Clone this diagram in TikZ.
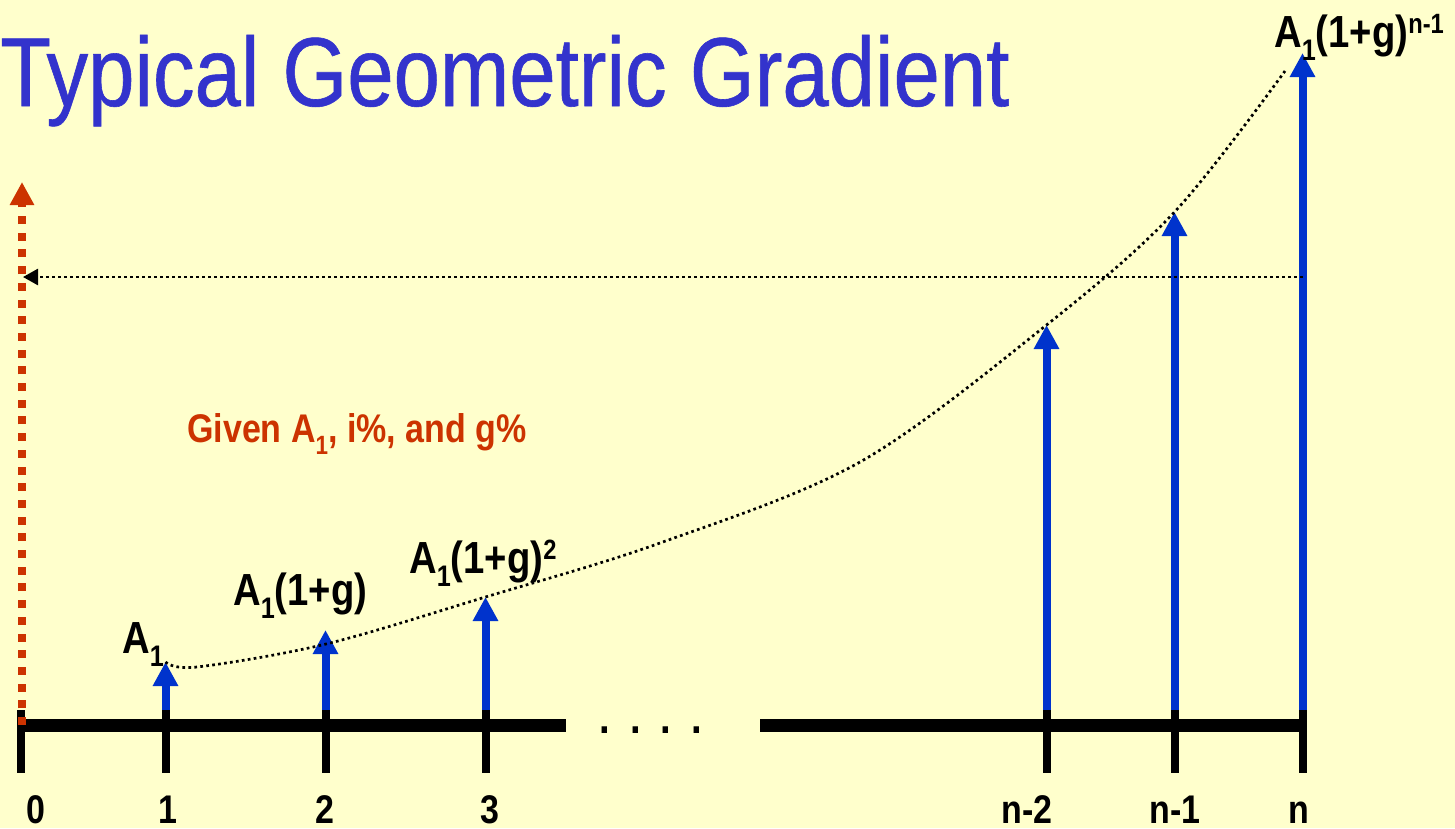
\documentclass[tikz,border=0pt]{standalone}
\usepackage{fontspec}
\usepackage{graphicx}
\setmainfont{Liberation Sans}
\newfontfamily\narrowfont[FakeStretch=0.85]{Liberation Sans}
\newfontfamily\titlefont[FakeStretch=0.85, FakeBold=0.6]{Liberation Sans}
\usetikzlibrary{arrows.meta}
\usetikzlibrary{positioning}
\definecolor{bgyellow}{RGB}{255,255,204}
\definecolor{titleblue}{RGB}{51,51,204}
\definecolor{cashblue}{RGB}{0,51,204}
\definecolor{givenred}{RGB}{204,51,0}
\newcommand{\sbs}[1]{\raisebox{-0.3em}{\scalebox{0.66}{#1}}}
\newcommand{\sps}[1]{\raisebox{0.31em}{\scalebox{0.62}{#1}}}

\begin{document}
\begin{tikzpicture}[x=1pt, y=-1pt,
    every node/.style={inner sep=0pt, font=\narrowfont\bfseries\fontsize{45}{50}\selectfont},
    cash/.style={line width=8pt, draw=cashblue, -{Triangle[width=24pt, length=24pt]}},
    tickmark/.style={line width=8pt},
    dotline/.style={line width=2.7pt, dash pattern=on 2.7pt off 3.3pt},
    axislabel/.style={anchor=base, font=\narrowfont\bfseries\fontsize{40}{44}\selectfont}]
        % Background and fixed size
        \fill[bgyellow] (0,0) rectangle (1455,828);
        \useasboundingbox (0,0) rectangle (1455,828);

        % Title
        \node[anchor=base west, text=titleblue, font=\titlefont\fontsize{98}{110}\selectfont] (title) at (0,106) {Typical Geometric Gradient};

        % Points on the time line
        \foreach \name/\x in {t0/21, t1/165.5, t2/325.5, t3/485.5, t4/1046.5, t5/1174.5, t6/1302.5}
        {
          \coordinate (\name) at (\x,725);
        }

        % Tips of the cash flow arrows
        \coordinate (h1) at (165.5,662);
        \coordinate (h2) at (325.5,630);
        \coordinate (h3) at (485.5,597);
        \coordinate (h4) at (1046.5,325);
        \coordinate (h5) at (1174.5,212);
        \coordinate (h6) at (1302.5,53);

        % Cash flow arrows
        \foreach \i in {1,...,6}
        {
          \draw[cash] ([yshift=10pt]t\i) -- (h\i);
        }

        % Time line
        \draw[line width=13pt] (17,725) -- (566,725);
        \draw[line width=13pt] (760,725) -- (1306.5,725);
        \foreach \i in {0,...,6}
        {
          \draw[tickmark] ([yshift=15pt]t\i) -- ([yshift=-48pt]t\i);
        }
        \node[anchor=base] (dots) at (651,733) {.\hspace{20pt}.\hspace{20pt}.\hspace{20pt}.};

        % Present worth arrow
        \coordinate (p0) at (22,182);
        \draw[givenred, line width=8pt, dash pattern=on 8pt off 8.7pt, -{Triangle[width=23pt, length=23pt]}] (22,725) -- (p0);

        % Equivalent line and growth curve
        \coordinate (pw) at (23,277);
        \draw[dotline, -{Triangle[width=16pt, length=15pt]}] (h6 |- pw) -- (pw);
        \draw[dotline] plot[smooth, tension=0.55] coordinates {(h1) (197,667) (326,644) (h3) (660,543) (860,462) (h4) (h5) (1285,71)};

        % Cash flow labels
        \node[anchor=base west] (a1) at (122,653) {A\sbs{1}};
        \node[anchor=base west] (a2) at (233,605) {A\sbs{1}(1+g)};
        \node[anchor=base west] (a3) at (409,573) {A\sbs{1}(1+g)\sps{2}};
        \node[anchor=base west] (an) at (1274,47) {A\sbs{1}(1+g)\sps{n-1}};

        \node[anchor=base west, text=givenred, font=\narrowfont\bfseries\fontsize{40}{44}\selectfont] (given) at (187,442) {Given A\sbs{1}, i\%, and g\%};

        % Period labels
        \node[axislabel] (l0) at (36,823) {0};
        \node[axislabel] (l1) at (168,823) {1};
        \node[axislabel] (l2) at (325,823) {2};
        \node[axislabel] (l3) at (490,823) {3};
        \node[axislabel] (l4) at (1027,823) {n-2};
        \node[axislabel] (l5) at (1175,823) {n-1};
        \node[axislabel] (l6) at (1299,823) {n};
      \end{tikzpicture}
\end{document}
